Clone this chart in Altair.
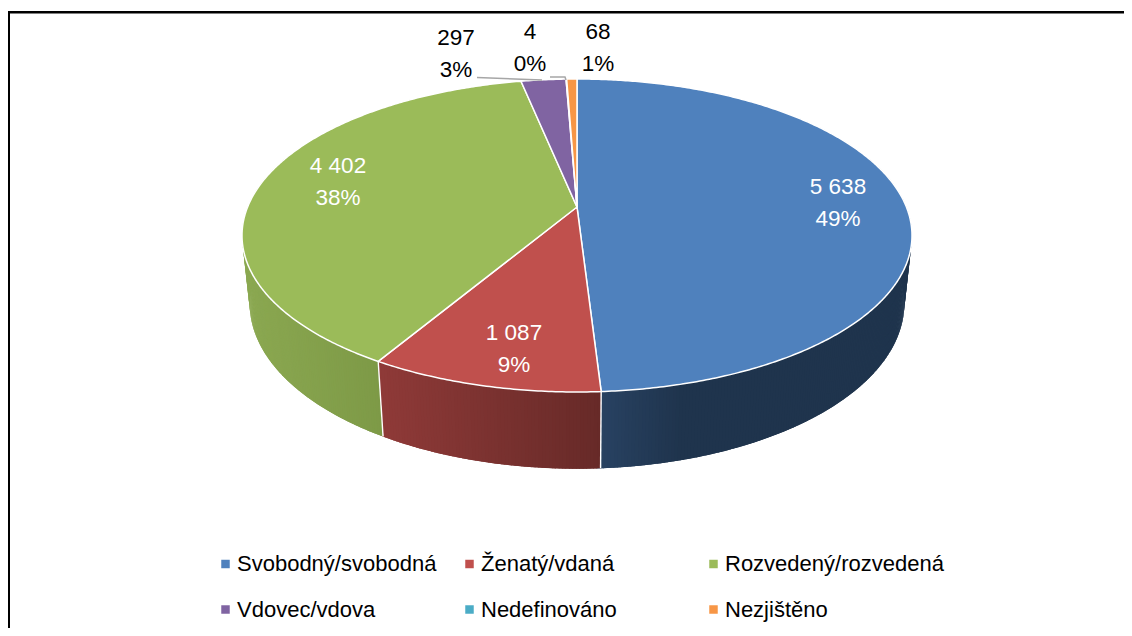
import math
import altair as alt

# ---- data ----
categories = ["Svobodný/svobodná", "Ženatý/vdaná", "Rozvedený/rozvedená", "Vdovec/vdova", "Nedefinováno", "Nezjištěno"]
values = [5638, 1087, 4402, 297, 4, 68]
top_colors = ["#4F81BD", "#C0504D", "#9BBB59", "#8064A2", "#4BACC6", "#F79646"]
# wall shading, from the left end to the right end of each slice
wall_left = ["#2B4668", "#8F3A38", "#8BA851", "#4D3C62", "#2D6776", "#94592A"]
wall_right = ["#1F344D", "#672A28", "#6F8B3C", "#4D3C62", "#2D6776", "#94592A"]

# ---- layout (page pixels) ----
FONT = "Liberation Sans"
M = 8
W, H = 1116, 620
CX = 577
TOP = dict(a=329.4, b=151.3, k=0.182, y0=207.0)
BOT = dict(a=322.0, b=160.0, k=0.18, y0=273.6)
# position of the first line of each data label
label_pos = [(838, 187), (514, 333), (338, 166), (456, 38), (530, 32), (598, 32)]
label_col = ["white", "white", "white", "black", "black", "black"]
LEAD = "#A6A6A6"


def project(p, t):
    """t: clockwise turn fraction from the top of the disc; p: a disc plane."""
    u, v = math.sin(2 * math.pi * t), -math.cos(2 * math.pi * t)
    w = 1 - p["k"] * v
    return [CX + p["a"] * u / w - M, p["y0"] + p["b"] * v / w - M]


def mix(c1, c2, f):
    a = [int(c1[i:i + 2], 16) for i in (1, 3, 5)]
    b = [int(c2[i:i + 2], 16) for i in (1, 3, 5)]
    return "#%02x%02x%02x" % tuple(round(x + (y - x) * f) for x, y in zip(a, b))


def poly(pts, **props):
    return {"type": "Feature", "properties": props,
            "geometry": {"type": "Polygon", "coordinates": [pts + [pts[0]]]}}


def line(pts, **props):
    return {"type": "Feature", "properties": props,
            "geometry": {"type": "LineString", "coordinates": pts}}


total = sum(values)
edges = [0.0]
for v in values:
    edges.append(edges[-1] + v / total)

frame = [poly([[0, 0], [W, 0], [W, H], [0, H]], fill="transparent")]
walls, tops, seams = [], [], []
apex = [CX - M, TOP["y0"] - M]
for i, cat in enumerate(categories):
    t0, t1 = edges[i], edges[i + 1]
    n = max(2, int((t1 - t0) * 720))
    ts = [t0 + (t1 - t0) * j / n for j in range(n + 1)]
    tops.append(poly([apex] + [project(TOP, t) for t in ts], cat=cat))
    xs = [project(TOP, t)[0] for t in ts]
    xmin, xmax = min(xs), max(xs)
    step = (t1 - t0) / n
    for a, b in zip(ts, ts[1:]):
        if -math.cos(2 * math.pi * a) < -0.35:
            continue
        xm = (project(TOP, a)[0] + project(TOP, b)[0]) / 2
        f = (xm - xmin) / max(1, xmax - xmin)
        if i == 0:
            f = min(1, f * 3.2)
        col = mix(wall_left[i], wall_right[i], f)
        # each strip runs a little into the next one, so no seams show
        b2 = b + 1.2 * step
        walls.append(poly([project(TOP, a), project(TOP, b2), project(BOT, b2), project(BOT, a)], fill=col))
    seams.append(line([project(TOP, t0), project(BOT, t0)], fill="white"))

labels = []
for v, (x, y), col in zip(values, label_pos, label_col):
    labels.append({"text": f"{v:,}".replace(",", " ") + "\n" + f"{round(100 * v / total)}%",
                   "x": x - M, "y": y - M, "col": col})

leaders = [
    line([[477 - M, 77.5 - M], [542 - M, 80 - M]], fill=LEAD),
    line([[550 - M, 77 - M], [565 - M, 77 - M], [566 - M, 80 - M]], fill=LEAD),
]

proj = dict(type="identity", scale=1, translate=[0, 0])

frame_layer = alt.Chart(alt.Data(values=frame)).mark_geoshape(fillOpacity=0, strokeOpacity=0).project(**proj)
wall_layer = alt.Chart(alt.Data(values=walls)).mark_geoshape(strokeWidth=0).encode(
    fill=alt.Fill("properties.fill:N", scale=None, legend=None),
).project(**proj)
seam_layer = alt.Chart(alt.Data(values=seams)).mark_geoshape(filled=False, stroke="white", strokeWidth=1.4).project(**proj)
top_layer = alt.Chart(alt.Data(values=tops)).mark_geoshape(stroke="white", strokeWidth=1.5).encode(
    fill=alt.Fill(
        "properties.cat:N",
        scale=alt.Scale(domain=categories, range=top_colors),
        legend=alt.Legend(
            title=None, orient="none", direction="horizontal", legendX=206.5, legendY=545, columns=3, gridAlign="all",
            columnPadding=2, rowPadding=23.5, symbolType="square", symbolSize=72, symbolStrokeWidth=0,
            labelFont=FONT, labelFontSize=22, labelColor="black", labelLimit=300, symbolOffset=0,
            labelOffset=0.5,
        ),
    )
).project(**proj)
lead_layer = alt.Chart(alt.Data(values=leaders)).mark_geoshape(filled=False, stroke=LEAD, strokeWidth=1.5).project(**proj)
text_layer = alt.Chart(alt.Data(values=labels)).mark_text(
    font=FONT, fontSize=22.5, lineBreak="\n", lineHeight=31.5, align="center", baseline="middle"
).encode(
    x=alt.X("x:Q", scale=None, axis=None),
    y=alt.Y("y:Q", scale=None, axis=None),
    text="text:N",
    color=alt.Color("col:N", scale=None, legend=None),
)
left_rule = alt.Chart(alt.Data(values=[{"a": 0}])).mark_rule(color="black", strokeWidth=3).encode(
    x=alt.value(0.5), y=alt.value(3), y2=alt.value(H))
top_rule = alt.Chart(alt.Data(values=[{"a": 0}])).mark_rule(color="black", strokeWidth=2.5).encode(
    y=alt.value(4.2), x=alt.value(-1), x2=alt.value(W))

chart = alt.layer(frame_layer, wall_layer, seam_layer, top_layer, lead_layer, text_layer, left_rule, top_rule).resolve_scale(
    fill="independent"
).resolve_legend(fill="independent").properties(
    width=W, height=H, padding=0, autosize=alt.AutoSizeParams(type="none")
).configure_view(stroke=None)

chart.save("out.html", embed_options={"renderer": "svg", "actions": False})
